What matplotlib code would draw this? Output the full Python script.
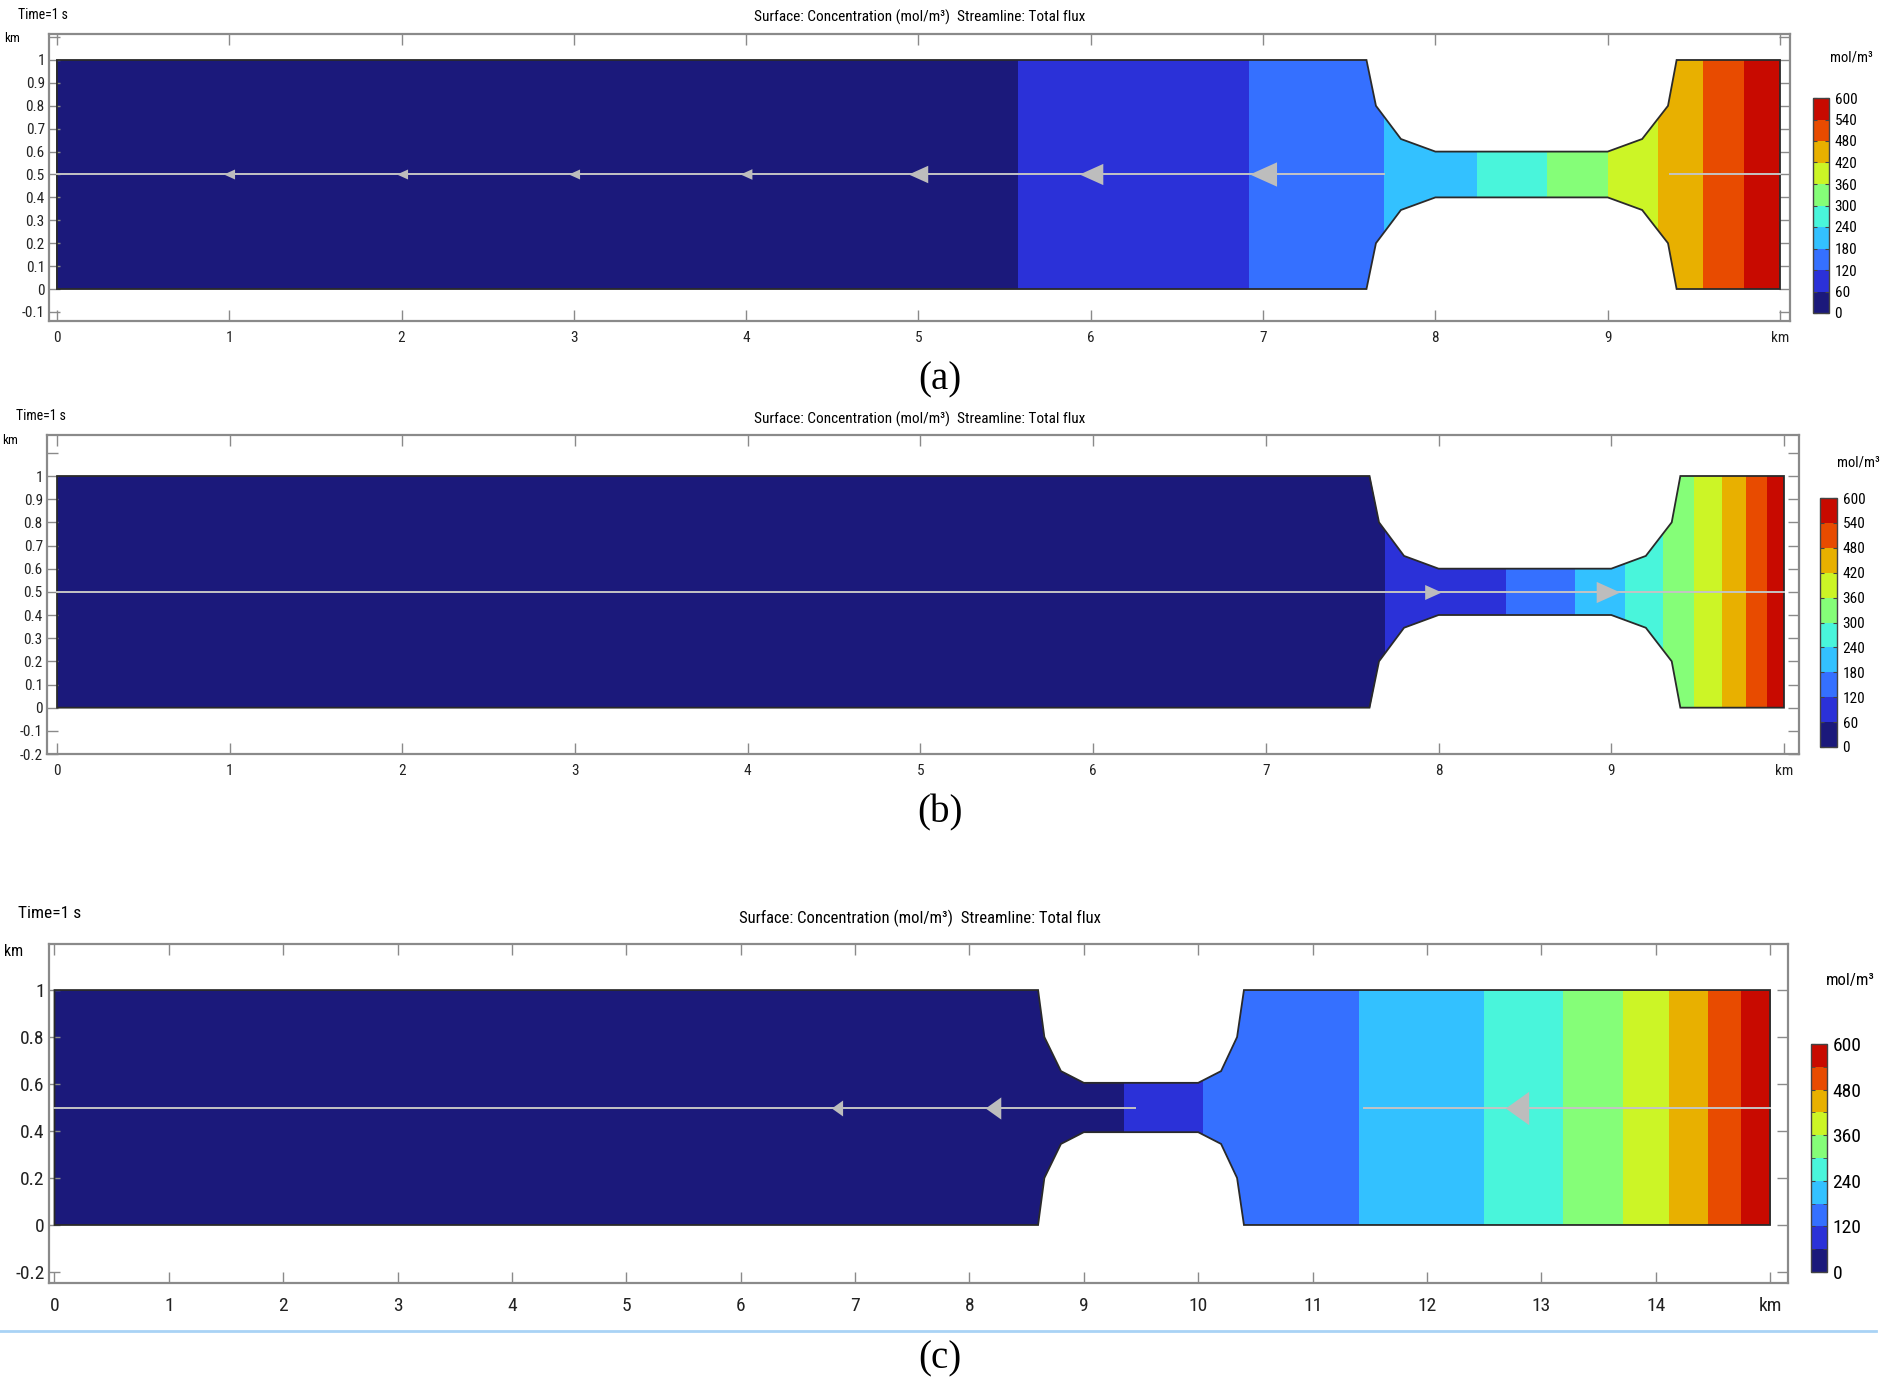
import numpy as np
import matplotlib.pyplot as plt
from matplotlib.colors import ListedColormap, BoundaryNorm
from matplotlib.patches import Polygon

W, H = 1886, 1385

# concentration levels (mol/m^3) and the colours of the 10 bands
levels = np.arange(0, 601, 60)
band_colors = ['#1b197b', '#2b31d8', '#3570ff', '#33c1ff', '#49f5db',
               '#85fe78', '#ccf526', '#e8b000', '#e84b00', '#c80a00']
band_mid = levels[:-1] + 30

# channel geometry: upper wall (x in km, y in km), lower wall is mirrored about 0.5
ab_top_x = [0.0, 7.60, 7.655, 7.80, 8.0, 9.0, 9.20, 9.35, 9.40, 10.0]
ab_top_y = [1.0, 1.0, 0.80, 0.655, 0.60, 0.60, 0.655, 0.80, 1.0, 1.0]
c_top_x = [0.0, 8.60, 8.655, 8.80, 9.0, 10.0, 10.20, 10.34, 10.40, 15.0]
c_top_y = [1.0, 1.0, 0.80, 0.655, 0.605, 0.605, 0.655, 0.80, 1.0, 1.0]

# x where the concentration crosses 60, 120, ... 540
a_edges = [0, 5.58, 6.92, 7.70, 8.24, 8.65, 9.00, 9.29, 9.555, 9.79, 10]
b_edges = [0, 7.69, 8.39, 8.79, 9.08, 9.30, 9.48, 9.64, 9.78, 9.90, 10]
c_edges = [0, 9.35, 10.04, 11.41, 12.50, 13.19, 13.71, 14.12, 14.46, 14.75, 15]

# streamline pieces along y = 0.5 and its arrows
a_stream = [(0, 7.70), (9.36, 10.0)]
b_stream = [(0, 10.0)]
c_stream = [(0, 9.45), (11.45, 15.0)]
a_arrow_x = [1, 2, 3, 4, 5, 6, 7]
b_arrow_x = [7.97, 8.98]
c_arrow_x = [6.84, 8.21, 12.79]
a_arrow_size = [8, 8, 8, 8.5, 14, 17, 19.5]
b_arrow_size = [12, 17]
c_arrow_size = [11.5, 16, 24]

cmap = ListedColormap(band_colors)
norm = BoundaryNorm(levels, cmap.N)

plt.rcParams['font.stretch'] = 'condensed'
NARROW = ['Roboto Condensed', 'Liberation Sans Narrow', 'DejaVu Sans Condensed', 'DejaVu Sans']
plt.rcParams['font.family'] = NARROW

fig = plt.figure(figsize=(W / 100, H / 100), dpi=100)


def rect(l, t, r, b):
    return [l / W, 1 - b / H, (r - l) / W, (b - t) / H]


def ftext(x, y, s, **kw):
    fig.text(x / W, 1 - y / H, s, **kw)


def panel(box, xlim, ylim, top_x, top_y, edges, streams, arrow_x, arrow_size,
          left_arrow, yticks, cbox, cb_labels, fs, xpad, arrow_verts):
    ax = fig.add_axes(rect(*box))
    ax.set_xlim(*xlim)
    ax.set_ylim(*ylim)

    xs = list(top_x) + list(top_x[::-1])
    ys = list(top_y) + [1 - v for v in top_y[::-1]]
    wall = Polygon(np.column_stack([xs, ys]), closed=True, facecolor='none',
                   edgecolor='#2a2a2a', lw=1.3, zorder=3)
    ax.add_patch(wall)
    mesh = ax.pcolormesh(edges, [0, 1], band_mid[np.newaxis, :], cmap=cmap, norm=norm,
                         shading='flat', antialiased=False, zorder=1)
    mesh.set_clip_path(wall)

    for x0, x1 in streams:
        ax.plot([x0, x1], [0.5, 0.5], color='#c4c4c4', lw=1.4, zorder=4)
    for x, s in zip(arrow_x, arrow_size):
        v = arrow_verts if left_arrow else [(-p, q) for p, q in arrow_verts]
        ax.plot([x], [0.5], marker=v, ms=s, color='#bdbdbd', mec='none', zorder=5)

    nx = int(round(top_x[-1]))
    ax.set_xticks(range(0, nx + 1))
    ax.set_xticklabels([str(i) for i in range(nx)] + ['km'])
    ax.set_yticks(yticks)
    ax.set_yticklabels(['' if v > 1.05 else f'{round(v, 1):g}' for v in yticks])
    ax.tick_params(direction='in', top=True, right=True, length=8, width=1,
                   color='#8a8a8a', labelcolor='#222222', labelsize=fs)
    ax.tick_params(axis='x', pad=xpad)
    ax.tick_params(axis='y', pad=3)
    for sp in ax.spines.values():
        sp.set_color('#8a8a8a')
        sp.set_linewidth(1.6)

    cax = fig.add_axes(rect(*cbox))
    cb = fig.colorbar(mesh, cax=cax)
    cb.set_ticks(cb_labels)
    cb.ax.set_yticks(levels, minor=True)
    cb.ax.tick_params(which='both', direction='in', length=3, color='#444444',
                      labelsize=fs, pad=4, left=True, right=True)
    cb.outline.set_edgecolor('#444444')
    cb.outline.set_linewidth(1)
    return ax


tri = [(-1, 0), (1, 0.9), (1, -0.9)]
tri_c = [(-0.7, 0), (0.7, 1), (0.7, -1)]
title = 'Surface: Concentration (mol/m³)  Streamline: Total flux'
serif = 'Liberation Serif'

# (a)
panel((49, 34, 1790, 321), (-0.046, 10.058), (-0.1397, 1.1135),
      ab_top_x, ab_top_y, a_edges, a_stream, a_arrow_x, a_arrow_size, True,
      np.round(np.arange(-0.1, 1.15, 0.1), 1), (1813, 98, 1829, 313),
      levels, 11, 7, tri)
ftext(18, 15, 'Time=1 s', fontsize=10, va='center')
ftext(920, 17, title, fontsize=11, ha='center', va='center')
ftext(4, 38, 'km', fontsize=9.5, va='center')
ftext(1851, 58, 'mol/m³', fontsize=10.5, ha='center', va='center')
ftext(940, 380, '(a)', fontsize=28, family=serif, ha='center', va='center')

# (b)
panel((47, 435, 1799, 754), (-0.058, 10.087), (-0.2, 1.177),
      ab_top_x, ab_top_y, b_edges, b_stream, b_arrow_x, b_arrow_size, False,
      np.round(np.arange(-0.2, 1.15, 0.1), 1), (1820, 498, 1837, 747),
      levels, 11, 7, tri)
ftext(16, 416, 'Time=1 s', fontsize=10, va='center')
ftext(920, 419, title, fontsize=11, ha='center', va='center')
ftext(2, 440, 'km', fontsize=9.5, va='center')
ftext(1858, 462, 'mol/m³', fontsize=10.5, ha='center', va='center')
ftext(940, 813, '(b)', fontsize=28, family=serif, ha='center', va='center')

# (c)
panel((49, 944, 1788, 1283), (-0.048, 15.157), (-0.247, 1.196),
      c_top_x, c_top_y, c_edges, c_stream, c_arrow_x, c_arrow_size, True,
      np.round(np.arange(-0.2, 1.05, 0.2), 1), (1811, 1044, 1827, 1272),
      levels[::2], 14, 10, tri_c)
ftext(18, 913, 'Time=1 s', fontsize=12.5, va='center')
ftext(920, 918, title, fontsize=12, ha='center', va='center')
ftext(4, 952, 'km', fontsize=11.5, va='center')
ftext(1850, 980, 'mol/m³', fontsize=12, ha='center', va='center')
ftext(940, 1359, '(c)', fontsize=28, family=serif, ha='center', va='center')

fig.add_artist(plt.Line2D([0, 1876 / W], [1 - 1331 / H, 1 - 1331 / H],
                          color='#a9d3f5', lw=2))

fig.savefig('out.png', dpi=100)
